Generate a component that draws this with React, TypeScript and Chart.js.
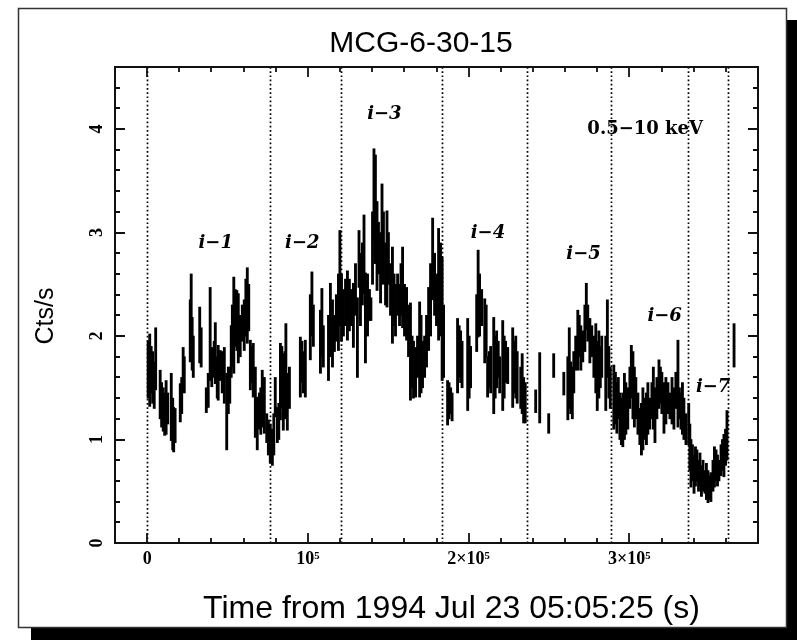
import { useEffect, useRef } from "react";
import { Chart, registerables } from "chart.js";

Chart.register(...registerables);

// ---- data (time in s, count-rate bounds in cts/s) ----
const timeSec = [
  600, 1600, 2500, 3400, 4400, 5300, 8100, 9000, 10000, 10900, 11800, 12800, 15000, 15900, 16500, 17400,
  20600, 21500, 22400, 23100, 26800, 27400, 28000, 28700, 32700, 33600, 36800, 38000, 39200, 40200, 41700,
  42400, 43600, 44200, 45500, 46700, 48000, 49500, 50500, 51400, 52300, 53000, 53900, 54800, 55800, 56700,
  57900, 59200, 60400, 61400, 62300, 63200, 64200, 65100, 66000, 67300, 68500, 69800, 70700, 71600, 72900,
  74400, 75400, 76600, 77900, 78800, 79700, 81000, 81900, 82900, 83800, 84700, 85700, 86300, 87200, 88500,
  95300, 96300, 97200, 98400, 101500, 102500, 103400, 107800, 108700, 109600, 112800, 114000, 115300,
  116500, 117700, 119000, 119900, 120900, 122100, 123400, 124600, 125800, 127100, 128300, 129600, 130800,
  131800, 132700, 133900, 134900, 135800, 137100, 138300, 139200, 140200, 141100, 142000, 143000, 143900,
  145200, 146100, 147000, 148300, 149200, 150100, 151400, 152600, 153600, 154500, 155800, 157000, 157900,
  158900, 160100, 161400, 162600, 163800, 164800, 165700, 167000, 168200, 169500, 170400, 171300, 172600,
  173800, 175100, 176300, 177600, 178800, 180000, 181300, 182500, 183500, 184400, 186900, 187800, 188800,
  189700, 193100, 194100, 195000, 195900, 199400, 200300, 201200, 205000, 205900, 206800, 208100, 210000,
  210900, 211800, 212800, 213700, 215600, 216500, 217400, 218400, 219300, 221200, 222100, 223000, 224300,
  227400, 228300, 229300, 230200, 232400, 233300, 234200, 235200, 241700, 244200, 249800, 252900, 259200,
  261700, 262600, 263500, 264500, 265400, 266600, 267900, 268800, 269800, 271000, 272300, 273200, 274100,
  275400, 276600, 277900, 279100, 280000, 281000, 281900, 282800, 285300, 286300, 287200, 288100, 290300,
  291300, 292200, 293100, 294100, 295000, 295900, 296900, 297800, 299000, 300300, 301200, 302200, 303100,
  304000, 305300, 306500, 307500, 308400, 309600, 310600, 311500, 312700, 314000, 314900, 315900, 317100,
  318400, 319300, 320200, 321500, 322700, 324000, 325200, 326500, 327700, 328900, 330200, 331100, 332100,
  333000, 333900, 335200, 336900, 337600, 338300, 339200, 340200, 341100, 342000, 343000, 343900, 344800,
  345800, 347000, 347900, 348900, 349800, 350700, 352000, 352900, 353900, 354800, 355700, 357000, 357900,
  358800, 359800, 360700, 365100,
];

const rateLow = [
  1.40, 1.32, 1.45, 1.35, 1.30, 1.48, 1.20, 1.12, 1.08, 1.04, 1.05, 1.15, 0.99, 0.90, 0.88, 0.97,
  1.17, 1.25, 1.51, 1.45, 1.75, 1.99, 1.67, 1.60, 1.74, 1.70, 1.26, 1.31, 1.57, 1.51, 1.60,
  1.54, 1.40, 1.38, 1.57, 1.45, 1.35, 0.90, 1.25, 1.35, 1.60, 1.70, 1.64, 1.90, 1.86, 1.74,
  1.80, 1.95, 1.86, 2.00, 1.93, 2.05, 1.48, 1.55, 1.41, 1.02, 0.90, 1.10, 1.05, 1.12, 1.06,
  0.97, 0.85, 0.77, 0.75, 0.85, 1.22, 0.97, 1.00, 1.19, 1.30, 1.09, 1.20, 1.22, 1.09, 1.30,
  1.41, 1.55, 1.45, 1.41, 1.77, 2.00, 1.90, 1.64, 1.80, 1.70, 1.57, 1.80, 1.70,
  1.85, 1.95, 1.86, 2.10, 1.95, 2.00, 2.10, 1.96, 2.05, 2.10, 1.89, 2.20, 1.60,
  2.47, 2.10, 2.30, 2.41, 1.74, 2.00, 2.15, 2.15, 2.50, 2.92, 2.70, 2.44, 2.60,
  2.32, 2.60, 2.50, 2.30, 2.28, 2.50, 2.20, 1.93, 2.10, 2.00, 2.20, 2.10, 2.20,
  2.08, 2.00, 1.96, 1.80, 1.38, 1.50, 1.40, 1.41, 1.60, 1.41, 1.45, 1.50, 1.60,
  1.70, 1.86, 2.00, 2.35, 2.20, 2.10, 1.96, 2.00, 1.57, 1.60, 1.14, 1.20, 1.25,
  1.18, 1.45, 1.60, 1.55, 1.50, 1.28, 1.40, 1.50, 1.85, 1.99, 2.00, 2.10, 1.74,
  1.80, 1.41, 1.50, 1.45, 1.25, 1.40, 1.50, 1.60, 1.45, 1.28, 1.40, 1.55, 1.54,
  1.31, 1.45, 1.40, 1.35, 1.30, 1.25, 1.16, 1.16, 1.26, 1.16, 1.06, 1.60, 1.43,
  1.19, 1.30, 1.25, 1.20, 1.45, 1.67, 1.67, 1.80, 1.67, 1.75, 1.85, 2.06, 1.95,
  1.74, 1.80, 1.60, 1.45, 1.28, 1.40, 1.50, 1.60, 1.28, 1.60, 1.40, 1.30, 1.10,
  1.15, 1.06, 1.20, 1.00, 0.95, 0.93, 1.00, 1.05, 1.10, 1.30, 1.40, 1.20, 1.12,
  1.20, 1.05, 0.95, 0.85, 0.90, 1.00, 0.95, 1.05, 1.10, 1.20, 1.10, 0.97, 1.20,
  1.30, 1.35, 1.25, 1.06, 1.15, 1.25, 1.20, 1.15, 1.10, 1.30, 1.12, 1.20, 1.10,
  1.05, 1.00, 0.95, 0.95, 0.70, 0.54, 0.60, 0.48, 0.55, 0.60, 0.50, 0.55, 0.45,
  0.50, 0.48, 0.42, 0.39, 0.42, 0.40, 0.50, 0.54, 0.60, 0.55, 0.60, 0.65, 0.70,
  0.64, 0.75, 0.80, 1.70,
];

const rateHigh = [
  1.95, 2.02, 1.90, 1.85, 1.75, 2.08, 1.67, 1.55, 1.50, 1.45, 1.57, 1.45, 1.64, 1.40, 1.31, 1.30,
  1.54, 1.60, 1.89, 1.80, 2.35, 2.60, 2.18, 2.00, 2.28, 2.08, 1.50, 1.64, 2.47, 1.89, 1.95,
  2.13, 1.80, 1.91, 1.86, 1.85, 1.89, 1.64, 1.70, 1.70, 2.10, 2.30, 2.57, 2.45, 2.44, 2.41,
  2.20, 2.30, 2.35, 2.55, 2.66, 2.50, 1.96, 1.90, 1.93, 1.70, 1.41, 1.45, 1.50, 1.67, 1.60,
  1.25, 1.19, 1.15, 1.10, 1.25, 1.60, 1.31, 1.35, 1.93, 1.90, 1.83, 1.85, 2.12, 1.64, 1.70,
  1.99, 1.95, 1.85, 1.96, 2.40, 2.62, 2.30, 2.25, 2.46, 2.10, 2.20, 2.51, 2.35,
  2.20, 2.40, 2.60, 3.02, 2.60, 2.45, 2.55, 2.63, 2.55, 2.45, 2.51, 2.70, 2.37,
  3.02, 2.80, 2.90, 3.17, 2.61, 2.60, 2.45, 2.37, 3.20, 3.81, 3.75, 3.30, 3.10,
  3.00, 3.47, 3.20, 2.90, 3.21, 3.00, 2.70, 2.86, 2.60, 2.50, 2.60, 2.50, 2.70,
  2.86, 2.50, 2.47, 2.30, 2.32, 2.00, 1.95, 1.89, 2.00, 2.33, 2.20, 1.95, 2.00,
  2.20, 2.47, 2.70, 3.14, 2.80, 2.60, 3.04, 2.90, 2.76, 2.30, 1.57, 1.55, 1.50,
  1.45, 2.17, 2.10, 2.05, 1.95, 2.17, 2.00, 1.90, 2.40, 2.83, 2.60, 2.45, 2.36,
  2.30, 1.80, 1.85, 1.90, 2.18, 2.00, 2.05, 1.95, 1.80, 2.15, 2.00, 1.95, 1.89,
  2.08, 1.95, 2.00, 1.85, 1.70, 1.83, 1.60, 1.55, 1.48, 1.84, 1.25, 1.83, 1.65,
  1.80, 2.08, 1.75, 1.70, 1.85, 2.00, 2.25, 2.20, 2.10, 2.05, 2.30, 2.51, 2.30,
  2.17, 2.10, 2.00, 2.12, 1.95, 2.05, 1.90, 2.00, 2.00, 2.35, 1.90, 1.70, 1.72,
  1.65, 1.55, 1.60, 1.45, 1.40, 1.45, 1.64, 1.55, 1.50, 1.70, 1.91, 1.85, 1.70,
  1.60, 1.45, 1.30, 1.35, 1.50, 1.40, 1.45, 1.55, 1.40, 1.55, 1.70, 1.50, 1.60,
  1.77, 1.70, 1.65, 1.55, 1.60, 1.55, 1.45, 1.60, 1.50, 1.65, 1.96, 1.50, 1.45,
  1.55, 1.40, 1.25, 1.35, 1.15, 1.00, 0.95, 0.85, 0.93, 0.90, 0.80, 0.87, 0.75,
  0.80, 0.70, 0.77, 0.70, 0.65, 0.68, 0.80, 0.93, 0.90, 0.85, 0.80, 0.95, 1.00,
  1.05, 1.10, 1.28, 2.12,
];

// interval boundaries (dotted lines) and their labels
const intervalBounds = [0, 76150, 120600, 183700, 236000, 288700, 336400, 361300];
const intervalNames = ["i\u22121", "i\u22122", "i\u22123", "i\u22124", "i\u22125", "i\u22126", "i\u22127"];
const intervalNameTime = [42650, 96500, 147600, 212000, 271500, 321900, 352100];
const intervalNameRate = [2.90, 2.90, 4.14, 2.99, 2.79, 2.19, 1.50];
const bandLabel = "0.5\u221210 keV";
const bandLabelTime = 309800;
const bandLabelRate = 4.0;

const xTickValues = [0, 100000, 200000, 300000];
const xTickLabels = ["0", "10\u2075", "2\u00d710\u2075", "3\u00d710\u2075"];
const yTickValues = [0, 1, 2, 3, 4];
const yTickLabels = ["0", "1", "2", "3", "4"];

const chartTitle = "MCG-6-30-15";
const xTitle = "Time from 1994 Jul 23 05:05:25 (s)";
const yTitle = "Cts/s";

const X_MIN = -20000;
const X_MAX = 380000;
const X_MINOR = 20000;
const Y_MIN = 0;
const Y_MAX = 4.6;
const Y_MINOR = 0.2;

const SANS = '"Liberation Sans", Arial, Helvetica, sans-serif';
const SERIF = '"DejaVu Serif", "Liberation Serif", serif';
const TICK_SERIF = '"Liberation Serif", "Times New Roman", serif';

const decorPlugin = {
  id: "decor",
  beforeDraw(chart: any) {
    const ctx = chart.ctx;
    const W = chart.width;
    const H = chart.height;
    ctx.save();
    ctx.fillStyle = "#ffffff";
    ctx.fillRect(0, 0, W, H);
    // drop shadow
    ctx.fillStyle = "#000000";
    ctx.fillRect(31, 20, W - 31, H - 20);
    // frame
    ctx.fillStyle = "#ffffff";
    ctx.fillRect(18, 8, 768, 619);
    ctx.strokeStyle = "#333";
    ctx.lineWidth = 1.5;
    ctx.strokeRect(18.5, 8.5, 768, 619);
    ctx.restore();
  },
  beforeDatasetsDraw(chart: any) {
    const { ctx, chartArea } = chart;
    const xs = chart.scales.x;
    ctx.save();
    ctx.strokeStyle = "#000";
    ctx.lineWidth = 1.7;
    ctx.setLineDash([1.7, 2.5]);
    for (const b of intervalBounds) {
      const px = Math.round(xs.getPixelForValue(b)) + 0.5;
      ctx.beginPath();
      ctx.moveTo(px, chartArea.top);
      ctx.lineTo(px, chartArea.bottom);
      ctx.stroke();
    }
    ctx.restore();
  },
  afterDraw(chart: any) {
    const { ctx, chartArea } = chart;
    const xs = chart.scales.x;
    const ys = chart.scales.y;
    const { left, right, top, bottom } = chartArea;
    ctx.save();
    ctx.setLineDash([]);
    // plot frame
    ctx.strokeStyle = "#111";
    ctx.lineWidth = 2;
    ctx.strokeRect(left, top, right - left, bottom - top);
    // inward ticks
    ctx.lineWidth = 1.8;
    ctx.beginPath();
    for (let k = 1; X_MIN + k * X_MINOR < X_MAX; k++) {
      const v = X_MIN + k * X_MINOR;
      const major = xTickValues.indexOf(v) >= 0;
      const len = major ? 10 : 5;
      const px = Math.round(xs.getPixelForValue(v));
      ctx.moveTo(px, bottom);
      ctx.lineTo(px, bottom - len);
      ctx.moveTo(px, top);
      ctx.lineTo(px, top + len);
    }
    for (let k = 1; Y_MIN + k * Y_MINOR < Y_MAX - 1e-6; k++) {
      const v = Y_MIN + k * Y_MINOR;
      const major = Math.abs(v - Math.round(v)) < 1e-6;
      const len = major ? 10 : 5;
      const py = Math.round(ys.getPixelForValue(v));
      ctx.moveTo(left, py);
      ctx.lineTo(left + len, py);
      ctx.moveTo(right, py);
      ctx.lineTo(right - len, py);
    }
    ctx.stroke();

    // axis titles
    ctx.fillStyle = "#000";
    ctx.font = `32px ${SANS}`;
    ctx.textAlign = "center";
    ctx.textBaseline = "alphabetic";
    ctx.fillText(xTitle, 451.5, 618);

    ctx.save();
    ctx.translate(53, 316);
    ctx.rotate(-Math.PI / 2);
    ctx.font = `25px ${SANS}`;
    ctx.textAlign = "center";
    ctx.textBaseline = "alphabetic";
    ctx.fillText(yTitle, 0, 0);
    ctx.restore();

    // interval labels
    ctx.font = `italic bold 18px ${SERIF}`;
    ctx.textAlign = "center";
    ctx.textBaseline = "middle";
    intervalNames.forEach((name, i) => {
      ctx.fillText(name, xs.getPixelForValue(intervalNameTime[i]), ys.getPixelForValue(intervalNameRate[i]));
    });
    ctx.font = `bold 18px ${SERIF}`;
    ctx.fillText(bandLabel, xs.getPixelForValue(bandLabelTime), ys.getPixelForValue(bandLabelRate));
    ctx.restore();
  },
};

export default function App() {
  const ref = useRef<HTMLCanvasElement | null>(null);

  useEffect(() => {
    if (!ref.current) return;
    const tickFont = { family: TICK_SERIF, size: 18, weight: "bold" as const, lineHeight: 1.2 };
    const chart = new Chart(ref.current, {
      type: "bar",
      data: {
        datasets: [
          {
            label: "0.5-10 keV",
            data: timeSec.map((t, i) => ({ x: t, y: [rateLow[i], rateHigh[i]] })) as any,
            backgroundColor: "#000",
            borderWidth: 0,
            barThickness: 2.2,
            grouped: false,
          } as any,
        ],
      },
      options: {
        responsive: false,
        maintainAspectRatio: false,
        devicePixelRatio: 1,
        animation: false,
        events: [],
        layout: { padding: { left: 84, right: 39, top: 8, bottom: 0 } },
        plugins: {
          legend: { display: false },
          tooltip: { enabled: false },
          title: {
            display: true,
            text: chartTitle,
            color: "#000",
            font: { family: SANS, size: 30, weight: "normal", lineHeight: 1.2 },
            padding: { top: 18, bottom: 5 },
          },
        },
        scales: {
          x: {
            type: "linear",
            min: X_MIN,
            max: X_MAX,
            offset: false,
            grid: { display: false, drawTicks: false },
            border: { display: false },
            ticks: {
              font: tickFont,
              color: "#000",
              padding: 6,
              autoSkip: false,
              minRotation: 0,
              maxRotation: 0,
              callback: (_v: any, i: number) => xTickLabels[i],
            },
            afterBuildTicks: (s: any) => {
              s.ticks = xTickValues.map((v) => ({ value: v }));
            },
            afterFit: (s: any) => {
              s.height = 97;
            },
          } as any,
          y: {
            type: "linear",
            min: Y_MIN,
            max: Y_MAX,
            grid: { display: false, drawTicks: false },
            border: { display: false },
            ticks: {
              font: tickFont,
              color: "#000",
              padding: 13,
              minRotation: 90,
              maxRotation: 90,
              crossAlign: "center",
              callback: (_v: any, i: number) => yTickLabels[i],
            },
            afterBuildTicks: (s: any) => {
              s.ticks = yTickValues.map((v) => ({ value: v }));
            },
            afterFit: (s: any) => {
              s.width = 31;
            },
          } as any,
        },
      },
      plugins: [decorPlugin],
    });
    return () => chart.destroy();
  }, []);

  return (
    <div style={{ position: "fixed", left: 0, top: 0, width: 797, height: 640, background: "#fff" }}>
      <canvas ref={ref} width={797} height={640} style={{ display: "block", width: 797, height: 640 }} />
    </div>
  );
}
